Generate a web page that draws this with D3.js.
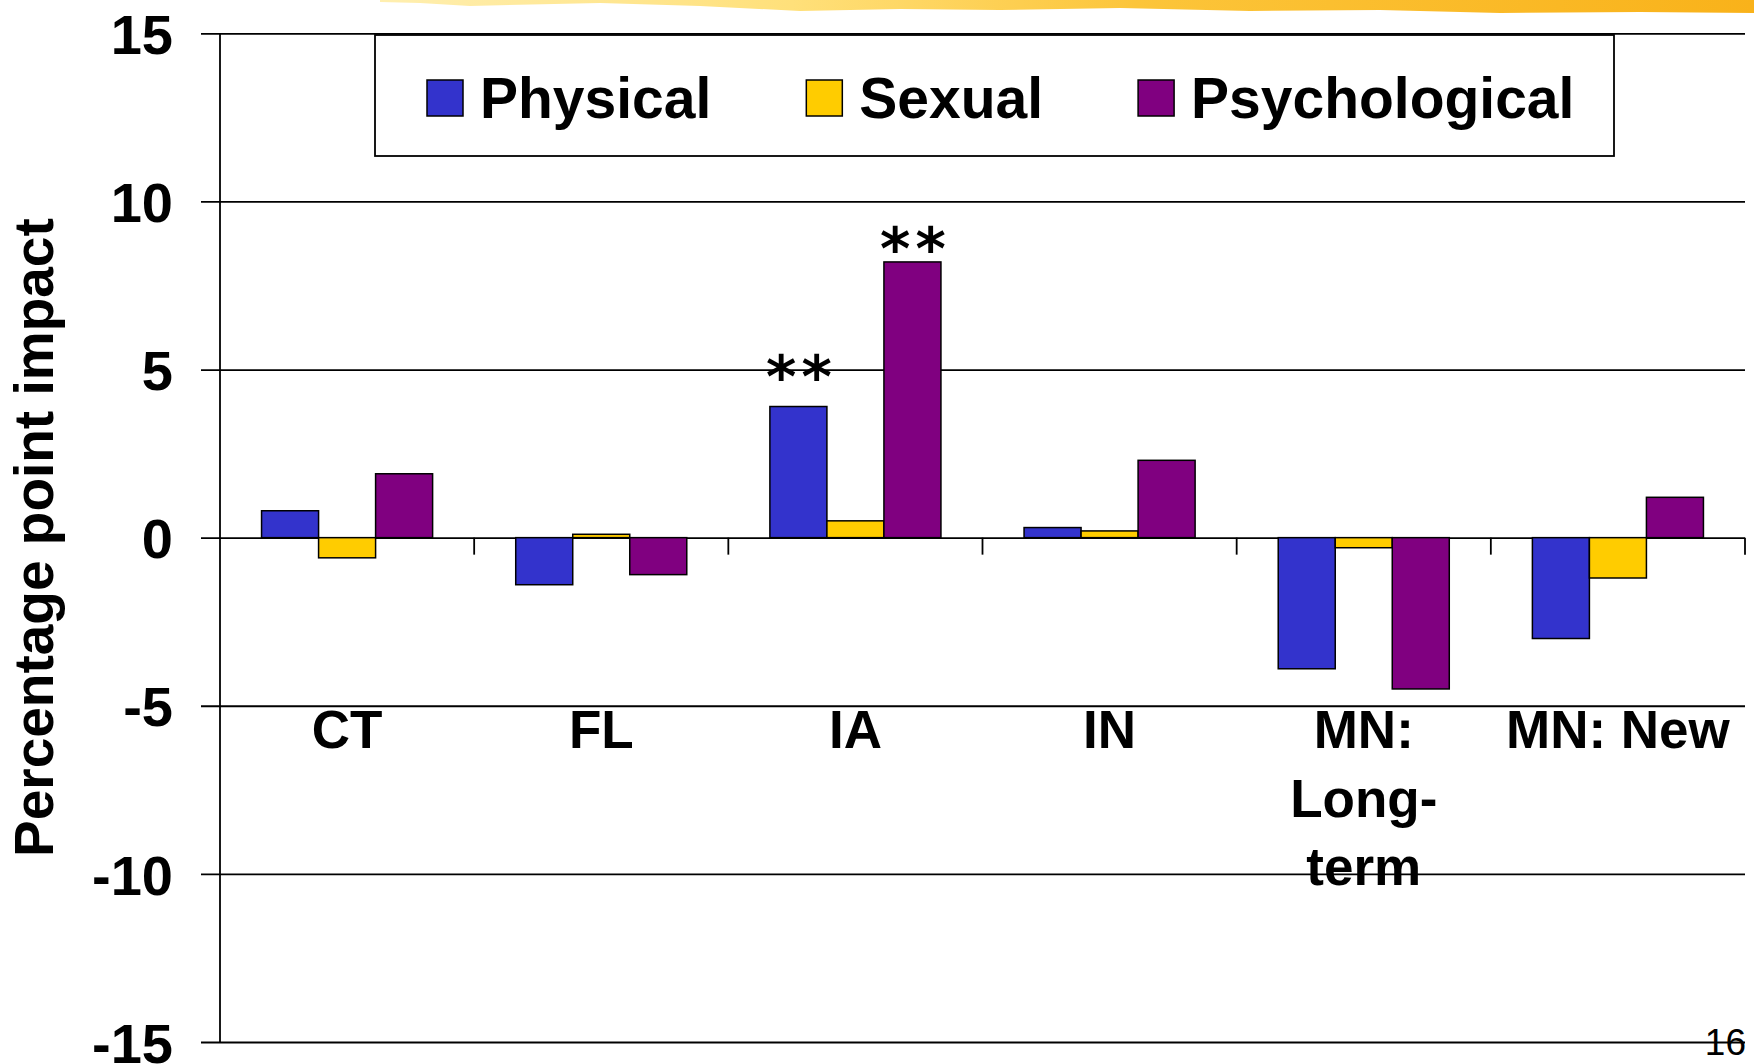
<!DOCTYPE html>
<html lang="en">
<head>
<meta charset="UTF-8">
<title>Percentage point impact</title>
<script src="https://cdn.jsdelivr.net/npm/d3@7/dist/d3.min.js"></script>
<style>
  body { margin: 0; background: #fff; }
  svg { display: block; font-family: 'Liberation Sans', Arial, sans-serif; }
</style>
</head>
<body>
<div id="chart"></div>
<script>
// data
var categories  = ['CT', 'FL', 'IA', 'IN', 'MN: Long-term', 'MN: New'];
var catLines    = [['CT'], ['FL'], ['IA'], ['IN'], ['MN:', 'Long-', 'term'], ['MN: New']];
var seriesNames = ['Physical', 'Sexual', 'Psychological'];
var physical      = [0.8, -1.4, 3.9, 0.3, -3.9, -3.0];
var sexual        = [-0.6, 0.1, 0.5, 0.2, -0.3, -1.2];
var psychological = [1.9, -1.1, 8.2, 2.3, -4.5, 1.2];
var yTicks      = [-15, -10, -5, 0, 5, 10, 15];
// significance marks: category, series, y value where the mark sits
var sigMarks = [
  { cat: 'IA', series: 'Physical', label: '**', at: 5.2 },
  { cat: 'IA', series: 'Psychological', label: '**', at: 9.0 }
];

var colors = { Physical: '#3333cc', Sexual: '#ffcc00', Psychological: '#800080' };

var W = 1754, H = 1064;
var plotL = 220, plotR = 1745, plotT = 33.3, plotB = 1042;

var svg = d3.select('#chart').append('svg').attr('width', W).attr('height', H);
svg.append('rect').attr('width', W).attr('height', H).attr('fill', '#fff');

// yellow brush stroke along the top of the slide
var grad = svg.append('defs').append('linearGradient').attr('id', 'brush');
grad.append('stop').attr('offset', '0%').attr('stop-color', '#ffefb0');
grad.append('stop').attr('offset', '30%').attr('stop-color', '#ffe07a');
grad.append('stop').attr('offset', '55%').attr('stop-color', '#fcc53a');
grad.append('stop').attr('offset', '100%').attr('stop-color', '#f9b21a');
svg.append('path')
  .attr('d', 'M380,0 L1754,0 L1754,13 L1640,12 L1500,13 L1380,10 L1250,11 L1120,8 L1000,10 L900,9 L800,11 L700,6 L600,3 L470,6 L420,3 L380,2 Z')
  .attr('fill', 'url(#brush)');

var table = categories.map(function(c, i) {
  return { cat: c, lines: catLines[i], Physical: physical[i], Sexual: sexual[i], Psychological: psychological[i] };
});

var x0 = d3.scaleBand().domain(categories).range([plotL, plotR]).paddingInner(0.327).paddingOuter(0.1635);
var x1 = d3.scaleBand().domain(seriesNames).range([0, x0.bandwidth()]);
var y  = d3.scaleLinear().domain([-15, 15]).range([plotB, plotT]);

// y axis with gridlines
var yAxis = svg.append('g').attr('transform', 'translate(' + plotL + ',0)')
  .call(d3.axisLeft(y).tickValues(yTicks).tickFormat(function(d) { return String(d); })
    .tickSizeInner(-(plotR - plotL)).tickSizeOuter(0).tickPadding(47));
yAxis.select('.domain').remove();
yAxis.selectAll('.tick line').attr('x1', -19).attr('stroke', '#000').attr('stroke-width', 1.8);
yAxis.selectAll('.tick text')
  .attr('font-size', 56).attr('font-weight', 'bold').attr('fill', '#000').attr('font-family', 'Liberation Sans, Arial, sans-serif')
  .attr('dy', '0.36em');
svg.append('line').attr('x1', plotL).attr('x2', plotL).attr('y1', plotT).attr('y2', plotB)
  .attr('stroke', '#000').attr('stroke-width', 1.8);

// category ticks along zero line
var step = x0.step();
svg.append('g').selectAll('line').data(d3.range(1, categories.length + 1)).join('line')
  .attr('x1', function(i) { return plotL + i * step; })
  .attr('x2', function(i) { return plotL + i * step; })
  .attr('y1', y(0)).attr('y2', y(0) + 17)
  .attr('stroke', '#000').attr('stroke-width', 1.8);

// bars
var groups = svg.append('g').selectAll('g').data(table).join('g')
  .attr('transform', function(d) { return 'translate(' + x0(d.cat) + ',0)'; });
groups.selectAll('rect')
  .data(function(d) { return seriesNames.map(function(s) { return { s: s, v: d[s] }; }); })
  .join('rect')
  .attr('x', function(d) { return x1(d.s); })
  .attr('width', x1.bandwidth())
  .attr('y', function(d) { return y(Math.max(0, d.v)); })
  .attr('height', function(d) { return Math.abs(y(d.v) - y(0)); })
  .attr('fill', function(d) { return colors[d.s]; })
  .attr('stroke', '#000').attr('stroke-width', 1.5);

// significance marks
var sigSize = 58;
svg.append('g').selectAll('text').data(sigMarks).join('text')
  .attr('x', function(d) { return x0(d.cat) + x1(d.series) + x1.bandwidth() / 2 + 3; })
  .attr('y', function(d) { return y(d.at) + sigSize * 0.59; })
  .attr('text-anchor', 'middle')
  .attr('font-family', 'DejaVu Sans, sans-serif')
  .attr('font-weight', 'bold')
  .attr('letter-spacing', 5)
  .attr('font-size', sigSize)
  .text(function(d) { return d.label; });

// category labels
var catText = svg.append('g').selectAll('text').data(table).join('text')
  .attr('y', 748)
  .attr('text-anchor', 'middle')
  .attr('font-size', 53).attr('font-weight', 'bold');
catText.selectAll('tspan').data(function(d) { return d.lines.map(function(l) { return { cat: d.cat, l: l }; }); }).join('tspan')
  .attr('x', function(d) { return x0(d.cat) + x0.bandwidth() / 2; })
  .attr('dy', function(d, i) { return i === 0 ? 0 : 68.5; })
  .text(function(d) { return d.l; });

// y axis title
svg.append('text')
  .attr('transform', 'translate(53,' + ((plotT + plotB) / 2) + ') rotate(-90)')
  .attr('text-anchor', 'middle')
  .attr('font-size', 55).attr('font-weight', 'bold')
  .text('Percentage point impact');

// legend
var legend = svg.append('g');
legend.append('rect').attr('x', 375).attr('y', 35).attr('width', 1239).attr('height', 121)
  .attr('fill', '#fff').attr('stroke', '#000').attr('stroke-width', 1.8);
var lx = 427;
seriesNames.forEach(function(s) {
  legend.append('rect').attr('x', lx).attr('y', 80).attr('width', 36).attr('height', 36)
    .attr('fill', colors[s]).attr('stroke', '#000').attr('stroke-width', 1.5);
  var t = legend.append('text').attr('x', lx + 53).attr('y', 118)
    .attr('font-size', 57).attr('font-weight', 'bold').text(s);
  lx += 53 + t.node().getComputedTextLength() + 95;
});

// slide number
svg.append('text').attr('x', 1746).attr('y', 1055).attr('text-anchor', 'end')
  .attr('font-size', 37).text('16');
</script>
</body>
</html>
